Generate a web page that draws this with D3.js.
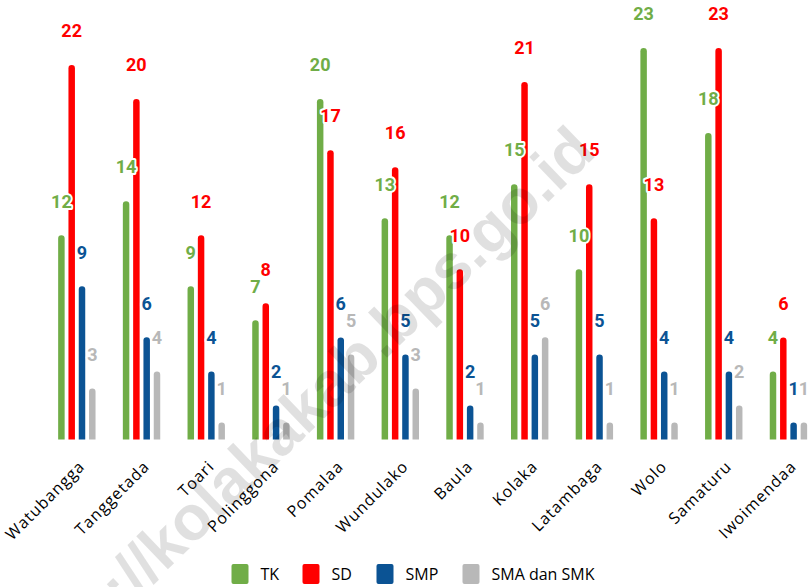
<!DOCTYPE html>
<meta charset="utf-8">
<script src="https://d3js.org/d3.v7.min.js"></script>
<style>
  body { margin: 0; background: #fff; }
</style>
<div id="chart"></div>
<script>

// data
var kecamatan = ["Watubangga", "Tanggetada", "Toari", "Polinggona", "Pomalaa", "Wundulako",
                 "Baula", "Kolaka", "Latambaga", "Wolo", "Samaturu", "Iwoimendaa"];
var seriesNames = ["TK", "SD", "SMP", "SMA dan SMK"];
var tk     = [12, 14, 9, 7, 20, 13, 12, 15, 10, 23, 18, 4];
var sd     = [22, 20, 12, 8, 17, 16, 10, 21, 15, 13, 23, 6];
var smp    = [9, 6, 4, 2, 6, 5, 2, 5, 5, 4, 4, 1];
var smaSmk = [3, 4, 1, 1, 5, 3, 1, 6, 1, 1, 2, 1];
var colors = ["#70AD47", "#FF0000", "#0B5394", "#B8B8B8"];

var seriesValues = [tk, sd, smp, smaSmk];

var width = 810, height = 587;

var svg = d3.select("#chart")
  .append("svg")
    .attr("width", width)
    .attr("height", height);

// scales
var x0 = d3.scaleBand()
  .domain(kecamatan)
  .range([44.5, 820.8])
  .padding(0);

var x1 = d3.scaleBand()
  .domain(seriesNames)
  .range([-20.6, 20.6])
  .paddingInner(0.37)
  .paddingOuter(0.185);

var y = d3.scaleLinear()
  .domain([0, 23])
  .range([439.5, 48]);

var bw = x1.bandwidth();

// bar with rounded top
function barPath(xl, yt, w, yb) {
  var r = w / 2;
  return "M" + xl + "," + yb +
         "V" + (yt + r) +
         "A" + r + "," + r + " 0 0 1 " + (xl + w) + "," + (yt + r) +
         "V" + yb + "Z";
}

var rows = [];
seriesNames.forEach(function(s, i) {
  kecamatan.forEach(function(k, j) {
    rows.push({ kec: k, series: s, value: seriesValues[i][j], color: colors[i] });
  });
});

// bars
svg.append("g").selectAll("path")
  .data(rows)
  .enter()
  .append("path")
    .attr("d", function(d) {
      var xl = x0(d.kec) + x0.bandwidth() / 2 + x1(d.series);
      return barPath(xl, y(d.value), bw, y(0));
    })
    .style("fill", function(d) { return d.color; });

// value labels
svg.append("g").selectAll("text")
  .data(rows)
  .enter()
  .append("text")
    .attr("x", function(d) { return x0(d.kec) + x0.bandwidth() / 2 + x1(d.series) + bw / 2; })
    .attr("y", function(d) { return y(d.value) - 34; })
    .attr("dy", "0.35em")
    .attr("text-anchor", "middle")
    .style("font-family", "Roboto")
    .style("font-weight", "bold")
    .style("font-size", "18px")
    .style("fill", function(d) { return d.color; })
    .style("stroke", "#fff")
    .style("stroke-width", "4px")
    .style("stroke-linejoin", "round")
    .style("paint-order", "stroke")
    .text(function(d) { return d.value; });

// category labels
var xAxis = d3.axisBottom(x0).tickSize(0).tickPadding(0);
var gx = svg.append("g")
  .attr("transform", "translate(0," + y(0) + ")")
  .call(xAxis);
gx.select(".domain").remove();
gx.selectAll("text")
  .attr("y", 0)
  .attr("dy", 0)
  .attr("text-anchor", "end")
  .attr("transform", "translate(9,28) rotate(-45)")
  .style("font-family", "Open Sans")
  .style("font-size", "16px")
  .style("letter-spacing", "1px")
  .style("fill", "#000");

// legend
var legendX = [231.5, 302.5, 376.5, 462.5];
var legend = svg.append("g").selectAll("g")
  .data(seriesNames)
  .enter()
  .append("g")
    .attr("transform", function(d, i) { return "translate(" + legendX[i] + ",564)"; });
legend.append("rect")
  .attr("width", 17)
  .attr("height", 20)
  .attr("rx", 2)
  .style("fill", function(d, i) { return colors[i]; });
legend.append("text")
  .attr("x", 29)
  .attr("y", 10)
  .attr("dy", "0.35em")
  .style("font-family", "Open Sans")
  .style("font-size", "16px")
  .style("fill", "#000")
  .text(function(d) { return d; });

// watermark
svg.append("text")
  .attr("transform", "translate(598,154) rotate(-44)")
  .attr("text-anchor", "end")
  .style("font-family", "Liberation Sans")
  .style("font-weight", "bold")
  .style("font-size", "63px")
  .style("fill", "#000")
  .style("fill-opacity", 0.12)
  .text("http://kolakakab.bps.go.id");

</script>
